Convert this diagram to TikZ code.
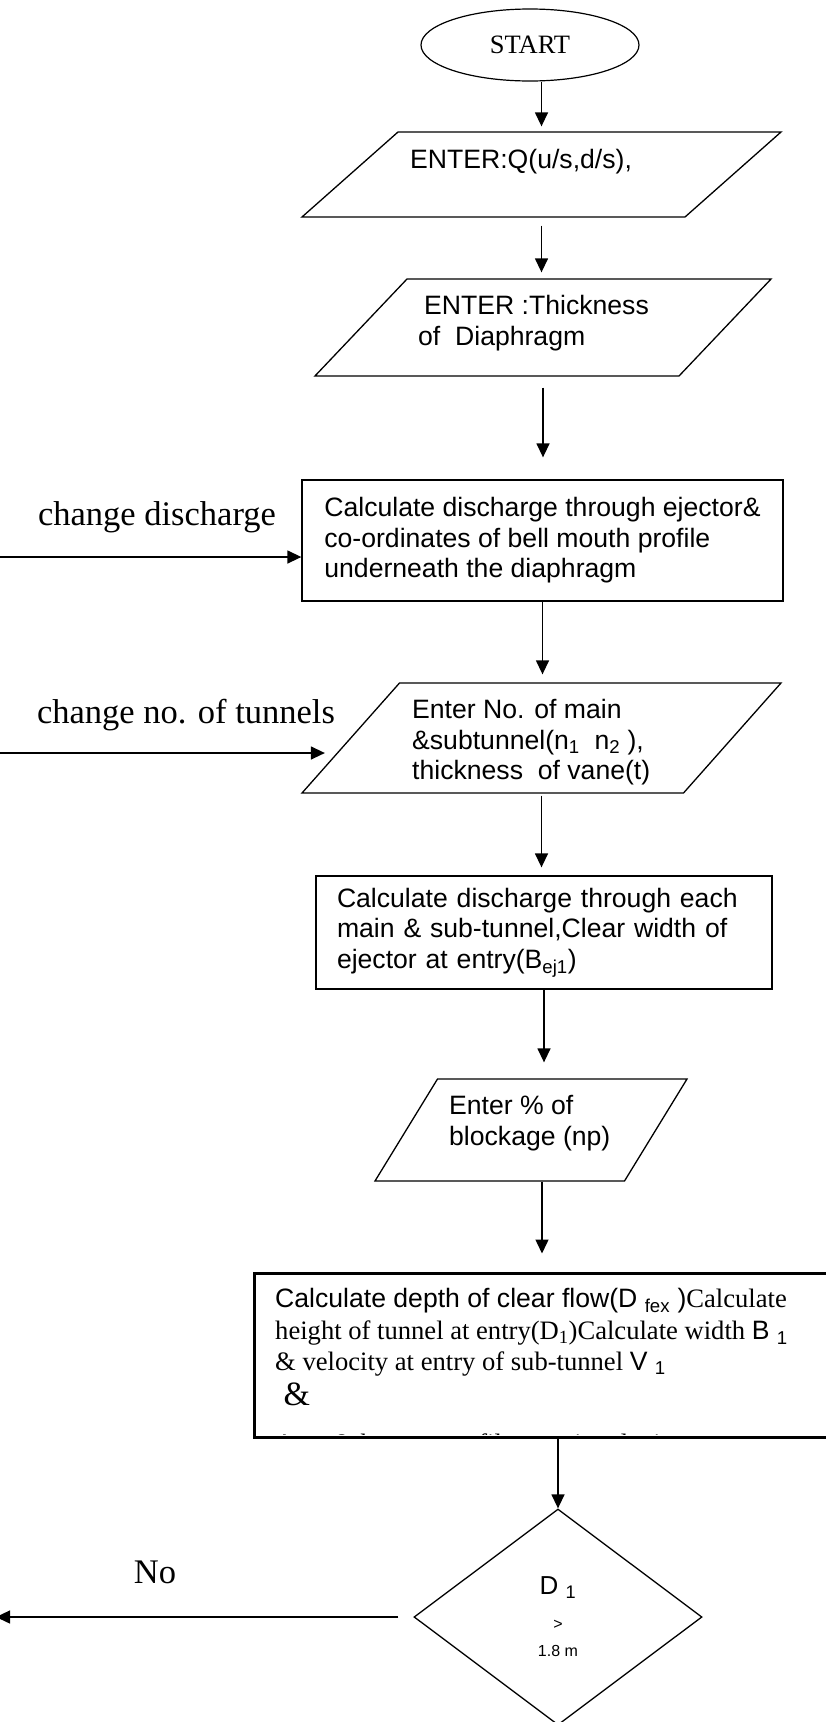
\documentclass[tikz,border=0pt]{standalone}
\usepackage{fontspec}
\setmainfont{Liberation Sans}
\newfontfamily\serifface{Liberation Serif}
\usetikzlibrary{shapes,arrows.meta}

\begin{document}
\begin{tikzpicture}[x=1pt, y=-1pt,
    terminal/.style={ellipse, draw, line width=1.2pt, minimum width=218pt, minimum height=72pt, inner sep=0pt, font=\serifface\fontsize{26.5}{30}\selectfont},
    io/.style={trapezium, draw, line width=1.3pt},
    process/.style={rectangle, draw, line width=1.3pt, inner sep=0pt, align=left, font=\fontsize{26.6}{30.5}\selectfont},
    decision/.style={diamond, draw, line width=1.3pt, minimum width=288pt, minimum height=216pt, inner sep=0pt, align=center, font=\fontsize{16}{27}\selectfont},
    body/.style={align=left, inner sep=0pt, anchor=north west, font=\fontsize{26.6}{30.5}\selectfont},
    note/.style={inner sep=0pt, font=\serifface\fontsize{34.5}{40}\selectfont},
    arrow/.style={line width=1.4pt, ->, >={Triangle[length=14pt,width=13pt]}}
]
\useasboundingbox (0,0) rectangle (825,1722);

\node[terminal] (start) at (530,45) {START};

\node[io, trapezium left angle=41.52, trapezium right angle=138.48, inner xsep=143.5pt, inner ysep=42.5pt] (enter1) at (541.5,174.5) {};
\node[body] (enter1text) at (410,148.6) {ENTER:Q(u/s,d/s),};

\node[io, trapezium left angle=46.5, trapezium right angle=133.5, inner xsep=136pt, inner ysep=48.5pt] (enter2) at (543,327.5) {};
\node[body] (enter2text) at (418,295.5) {\hspace*{6pt}ENTER :Thickness\\of\ \ Diaphragm};

\node[process, minimum width=481pt, minimum height=121pt] (calc1) at (542.5,540.5) {Calculate discharge through ejector\&\\co-ordinates of bell mouth profile\\underneath the diaphragm};

\node[io, trapezium left angle=48.45, trapezium right angle=131.55, inner xsep=142pt, inner ysep=55pt] (enter3) at (541.5,738) {};
\node[body] (enter3text) at (412,699.5) {Enter No. of main\\\&subtunnel(n\textsubscript{1}\ \ n\textsubscript{2} ),\\thickness\ \ of vane(t)};

\node[process, minimum width=456pt, minimum height=113pt, text width=414pt] (calc2) at (544,932.5) {Calculate discharge through each\\main \& sub-tunnel,Clear width of\\ejector at entry(B\textsubscript{ej1})};

\node[io, trapezium left angle=58.5, trapezium right angle=121.5, inner xsep=93.5pt, inner ysep=51pt] (enter4) at (531,1130) {};
\node[body] (enter4text) at (449,1095.5) {Enter \% of\\blockage (np)};

\node[process, line width=3pt, minimum width=576pt, minimum height=164pt] (calc3) at (542,1355) {};
\begin{scope}
\clip (calc3.north west) rectangle ([yshift=4pt]calc3.south east);
\node[body] (calc3text) at (275,1288.5) {Calculate depth of clear flow(D~\textsubscript{fex}~){\serifface Calculate}\\[1.5pt]
{\serifface height of tunnel at entry(D\textsubscript{1})Calculate width }B~\textsubscript{1}\\
{\serifface \& velocity at entry of sub-tunnel }V~\textsubscript{1}\\[4.5pt]
{\serifface\fontsize{34}{40}\selectfont\hspace*{8.5pt}\&}\\[17pt]
{\serifface Area \& bottom profile or exit velocity}};
\end{scope}

\node[decision] (decide) at (558,1617) {{\fontsize{26}{30}\selectfont D~\textsubscript{1}}\\[8pt]>\\1.8 m};

\node[note] (dischargelabel) at (157,517) {change discharge};
\node[note] (tunnellabel) at (186,715) {change no. of tunnels};
\node[note] (nolabel) at (155,1572) {No};

\coordinate (dischargein) at (-2,557);
\coordinate (tunnelin) at (-2,753);
\coordinate (noout) at (-4,1617);

\draw[arrow, shorten >=5pt] (start.south -| enter1.north) -- (enter1.north);
\draw[arrow, shorten <=8pt, shorten >=6pt] (enter1.south) -- (enter1.south |- enter2.north);
\draw[arrow, shorten <=11pt, shorten >=22pt] (enter2.south) -- (enter2.south |- calc1.north);
\draw[arrow, shorten >=8pt] (calc1.south) -- (calc1.south |- enter3.north);
\draw[arrow, shorten <=2pt, shorten >=8pt] (enter3.south) -- (enter3.south |- calc2.north);
\draw[arrow, shorten >=16pt] (calc2.south) -- (calc2.south |- enter4.north);
\draw[arrow, shorten >=18pt] (calc3.north |- enter4.south) -- (calc3.north);
\draw[arrow] (decide.north |- calc3.south) -- (decide.north);
\draw[arrow] (dischargein) -- (dischargein -| calc1.west);
\draw[arrow, shorten >=25pt] (tunnelin) -- (tunnelin -| enter3.west);
\draw[arrow, shorten <=15pt] (decide.west) -- (noout);

\end{tikzpicture}
\end{document}
